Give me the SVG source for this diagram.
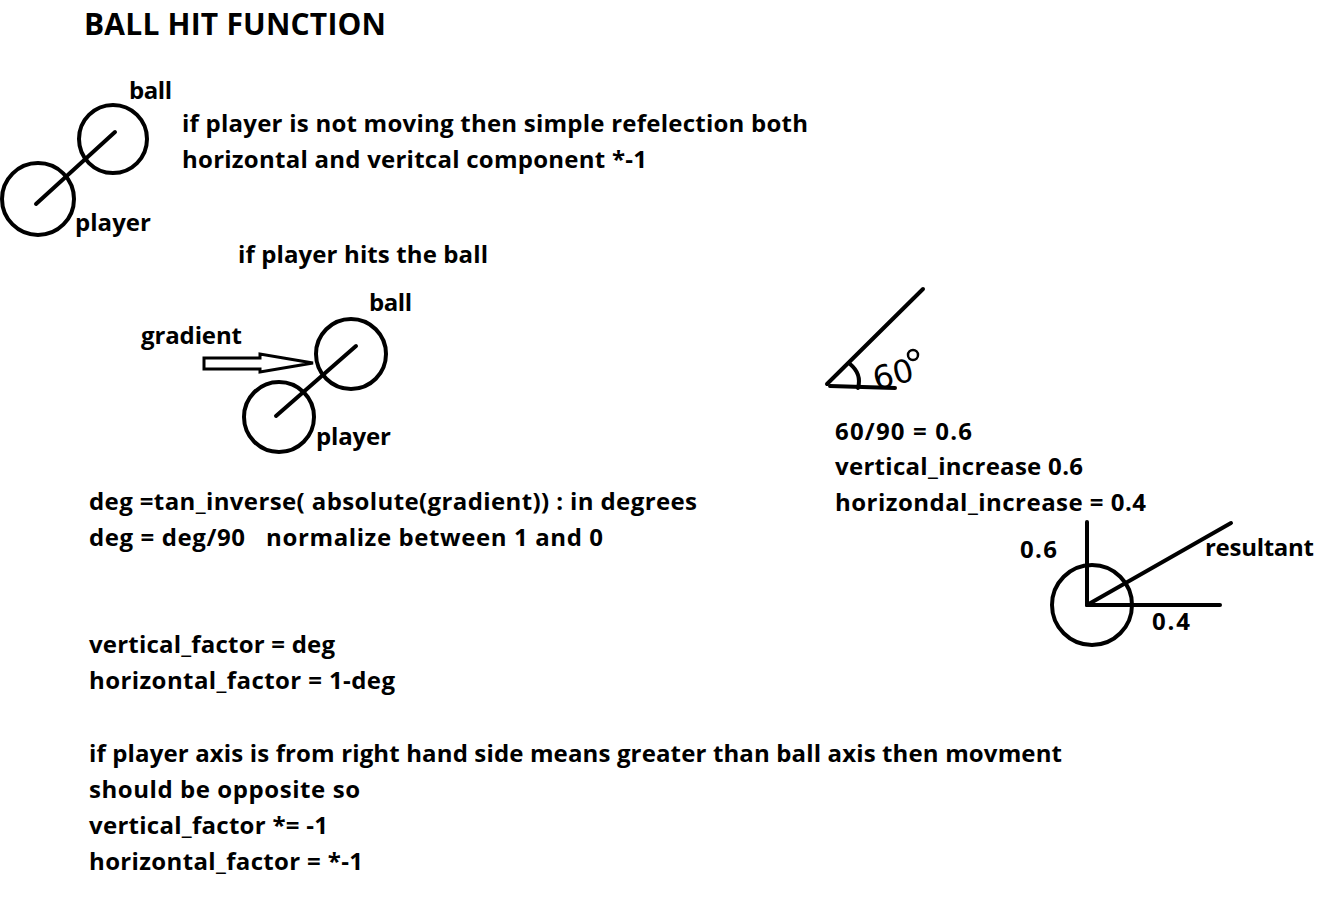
<svg xmlns="http://www.w3.org/2000/svg" width="1330" height="904" viewBox="0 0 1330 904">
<style>
text{font-family:"Open Sans","Liberation Sans",sans-serif;font-weight:bold;font-size:24px;fill:#000}
.title{font-size:30px}
.hand{font-family:"DejaVu Sans",sans-serif;font-weight:normal;font-size:32px}
.s{fill:none;stroke:#000;stroke-width:4;stroke-linecap:round}
</style>
<rect width="1330" height="904" fill="#fff"/>
<text class="title" x="84" y="35" textLength="302">BALL HIT FUNCTION</text>
<g id="scene1">
<circle class="s" cx="113" cy="139" r="34"/>
<circle class="s" cx="38" cy="199" r="36"/>
<line class="s" x1="36" y1="204" x2="115" y2="132"/>
<text x="129" y="99" textLength="43">ball</text>
<text x="75" y="231" textLength="76">player</text>
</g>
<g id="notes1">
<text x="182" y="132" textLength="626">if player is not moving then simple refelection both</text>
<text x="182" y="168" textLength="465">horizontal and veritcal component *-1</text>
<text x="238" y="263" textLength="250">if player hits the ball</text>
</g>
<g id="scene2">
<circle class="s" cx="351" cy="354" r="35"/>
<circle class="s" cx="279" cy="417" r="35"/>
<line class="s" x1="276" y1="416" x2="356" y2="346"/>
<polygon points="204,358 260,358 260,354 313,363 260,372 260,369 204,369" fill="none" stroke="#000" stroke-width="3" stroke-linejoin="miter"/>
<text x="369" y="311" textLength="43">ball</text>
<text x="141" y="344" textLength="101">gradient</text>
<text x="316" y="445" textLength="75">player</text>
</g>
<g id="formula">
<text x="89" y="510" textLength="608">deg =tan_inverse( absolute(gradient)) : in degrees</text>
<text x="89" y="546" textLength="514" xml:space="preserve">deg = deg/90   normalize between 1 and 0</text>
<text x="89" y="653" textLength="246">vertical_factor = deg</text>
<text x="89" y="689" textLength="306">horizontal_factor = 1-deg</text>
<text x="89" y="762" textLength="973">if player axis is from right hand side means greater than ball axis then movment</text>
<text x="89" y="798" textLength="271">should be opposite so</text>
<text x="89" y="834" textLength="239">vertical_factor *= -1</text>
<text x="89" y="870" textLength="274">horizontal_factor = *-1</text>
</g>
<g id="angle">
<line class="s" x1="827" y1="384" x2="923" y2="289"/>
<line class="s" x1="830" y1="386" x2="895" y2="388"/>
<path class="s" d="M850,364 Q862,374 858,388" stroke-width="3"/>
<text class="hand" x="872" y="386" transform="rotate(-15 890 372)">60</text>
<circle cx="913" cy="355" r="5" fill="none" stroke="#000" stroke-width="2.5"/>
</g>
<g id="ratio">
<text x="835" y="440" textLength="137">60/90 = 0.6</text>
<text x="835" y="475" textLength="248">vertical_increase 0.6</text>
<text x="835" y="511" textLength="311">horizondal_increase = 0.4</text>
</g>
<g id="resultant">
<circle class="s" cx="1092" cy="605" r="40"/>
<line class="s" x1="1087" y1="522" x2="1087" y2="605"/>
<line class="s" x1="1087" y1="605" x2="1220" y2="605"/>
<line class="s" x1="1087" y1="605" x2="1231" y2="523"/>
<text x="1020" y="558" textLength="37">0.6</text>
<text x="1205" y="556" textLength="109">resultant</text>
<text x="1152" y="630" textLength="38">0.4</text>
</g>
</svg>
